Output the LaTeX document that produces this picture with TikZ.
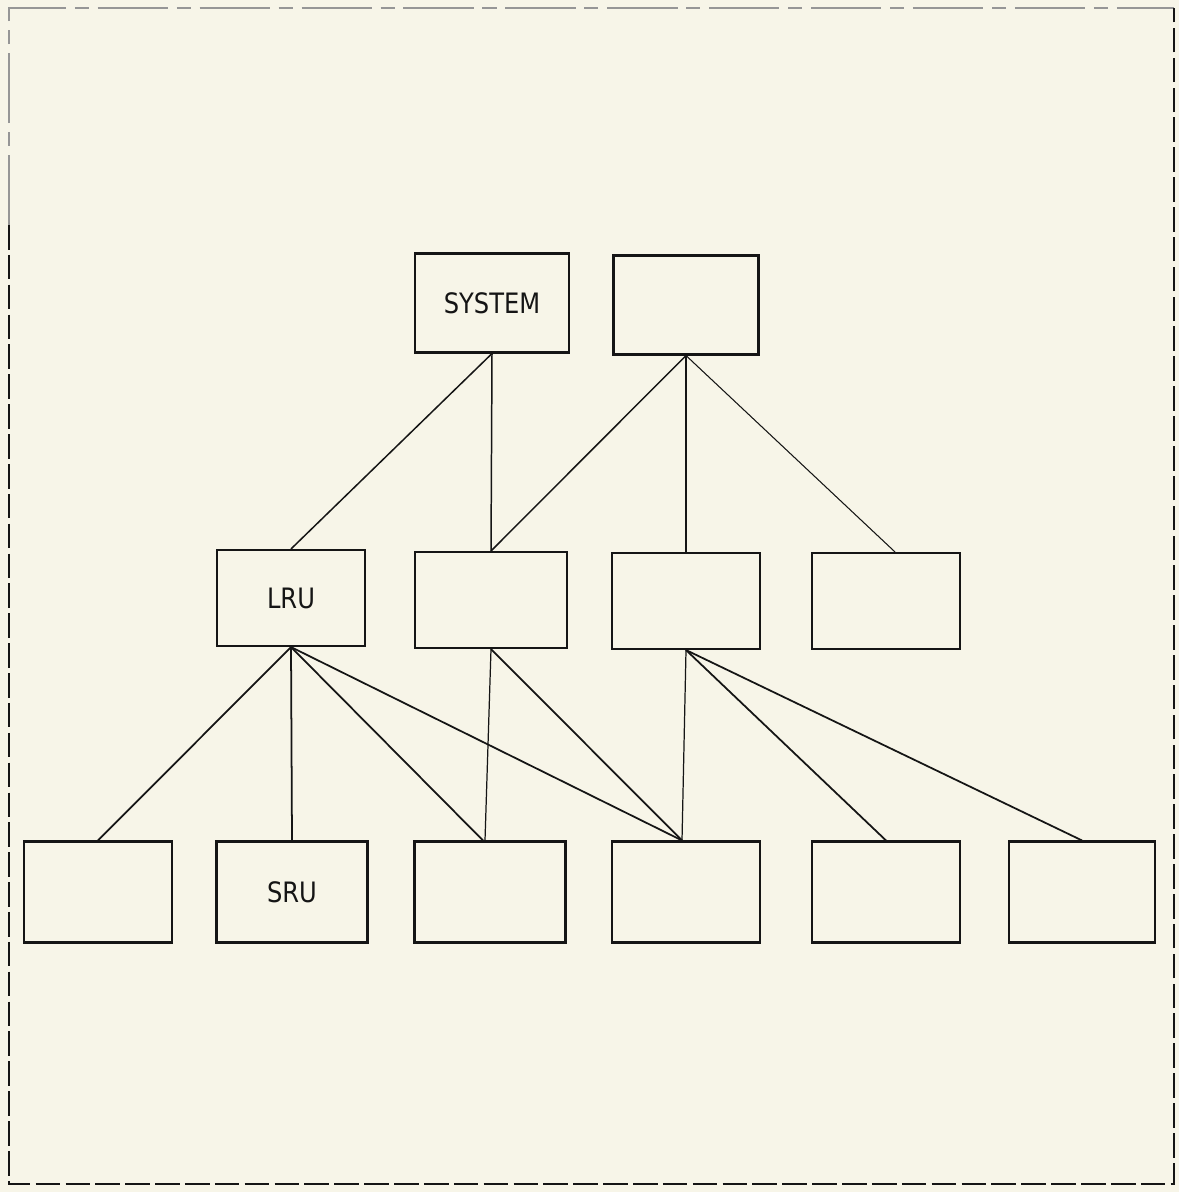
\documentclass[tikz,border=0pt]{standalone}
\usepackage{fontspec}
\newfontfamily\boxfont[FakeStretch=0.86]{DejaVu Sans}
\definecolor{paper}{HTML}{F7F5E8}
\definecolor{ink}{HTML}{151515}

\begin{document}
\begin{tikzpicture}[x=0.02cm, y=-0.02cm, every node/.style={font=\boxfont\fontsize{16}{18}\selectfont, text=ink},
    unit/.style={draw=ink, line width=1.2pt, minimum width=2.96cm, minimum height=1.92cm, inner sep=0pt},
    link/.style={draw=ink, line width=0.85pt}]
        % page and frame
        \fill[paper] (0,0) rectangle (1179,1192);
        \useasboundingbox (0,0) rectangle (1179,1192);
        \draw[ink!45, line width=0.6pt, dash pattern=on 40pt off 5pt on 8pt off 5pt] (9,225) -- (9,8) -- (1174,8);
        \draw[ink, line width=1.4pt, dash pattern=on 14pt off 3pt] (9,225) -- (9,1184) -- (1174,1184) -- (1174,8);

        % Top row
        \node[unit, minimum width=3.08cm, minimum height=1.98cm] (system) at (492,303) {SYSTEM};
        \node[unit, minimum width=2.9cm, minimum height=1.98cm] (top2) at (686,305) {};

        % Middle row
        \node[unit] (lru) at (291,598) {LRU};
        \node[unit, minimum width=3.04cm] (mid2) at (491,600) {};
        \node[unit] (mid3) at (686,601) {};
        \node[unit] (mid4) at (886,601) {};

        % Bottom row
        \node[unit, minimum height=2.02cm] (bot1) at (98,892) {};
        \node[unit, minimum height=2.02cm, minimum width=3.02cm] (sru) at (292,892) {SRU};
        \node[unit, minimum height=2.02cm, minimum width=3.02cm] (bot3) at (490,892) {};
        \node[unit, minimum height=2.02cm] (bot4) at (686,892) {};
        \node[unit, minimum height=2.02cm] (bot5) at (886,892) {};
        \node[unit, minimum height=2.02cm, minimum width=2.92cm] (bot6) at (1082,892) {};

        % Lines
        \draw[link] (system.south) -- (lru.north);
        \draw[link] (system.south) -- (mid2.north);
        \draw[link] (top2.south) -- (mid2.north);
        \draw[link] (top2.south) -- (mid3.north);
        \draw[link, line width=0.6pt] (top2.south) -- ([xshift=0.18cm]mid4.north);
        \draw[link, line width=1pt] (lru.south) -- (bot1.north);
        \draw[link, line width=1pt] (lru.south) -- (sru.north);
        \draw[link, line width=1pt] (lru.south) -- ([xshift=-0.14cm]bot3.north);
        \draw[link, line width=1pt] (lru.south) -- ([xshift=-0.08cm]bot4.north);
        \draw[link, line width=0.7pt] (mid2.south) -- ([xshift=-0.1cm]bot3.north);
        \draw[link, line width=1pt] (mid2.south) -- ([xshift=-0.08cm]bot4.north);
        \draw[link, line width=0.7pt] (mid3.south) -- ([xshift=-0.08cm]bot4.north);
        \draw[link, line width=1pt] (mid3.south) -- (bot5.north);
        \draw[link, line width=1pt] (mid3.south) -- (bot6.north);
      \end{tikzpicture}
\end{document}
